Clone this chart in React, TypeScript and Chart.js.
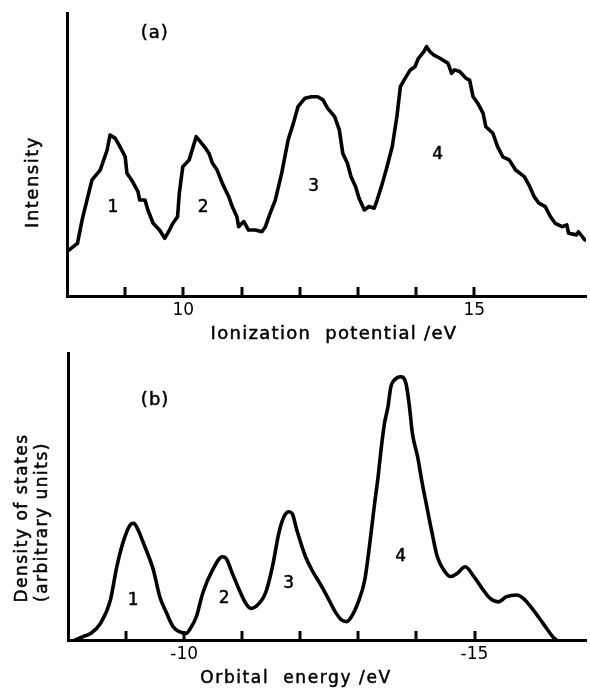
import { useEffect, useRef } from "react";
import { Chart, registerables } from "chart.js";

Chart.register(...registerables);

const FONT = '"DejaVu Sans", "Liberation Sans", sans-serif';

// ---- Panel (a): photoelectron spectrum ----
const ipEnergy = [
  8.00, 8.18, 8.26, 8.40, 8.43, 8.57, 8.69, 8.74, 8.83, 8.91,
  9.00, 9.03, 9.11, 9.22, 9.25, 9.34, 9.39, 9.48, 9.59, 9.68,
  9.76, 9.82, 9.90, 9.93, 9.99, 10.10, 10.22, 10.27, 10.36, 10.44,
  10.50, 10.58, 10.67, 10.78, 10.84, 10.92, 10.95, 11.04, 11.12, 11.24,
  11.35, 11.41, 11.49, 11.58, 11.69, 11.80, 11.89, 11.97, 12.09, 12.20,
  12.31, 12.40, 12.48, 12.60, 12.68, 12.74, 12.82, 12.88, 12.96, 13.02,
  13.11, 13.19, 13.28, 13.33, 13.42, 13.50, 13.59, 13.67, 13.73, 13.81,
  13.90, 13.98, 14.04, 14.13, 14.18, 14.24, 14.30, 14.41, 14.55, 14.61,
  14.66, 14.75, 14.86, 14.92, 14.98, 15.06, 15.15, 15.20, 15.32, 15.40,
  15.49, 15.60, 15.71, 15.86, 15.94, 16.03, 16.11, 16.22, 16.31, 16.39,
  16.51, 16.59, 16.62, 16.76, 16.79, 16.90,
];
const ipIntensity = [
  15.7, 18.6, 26.9, 38.6, 41.0, 44.5, 51.6, 56.9, 55.7, 52.8,
  49.2, 43.4, 41.0, 36.9, 33.9, 33.9, 30.4, 25.7, 23.3, 20.4,
  23.3, 25.7, 28.0, 36.3, 45.7, 48.1, 56.3, 55.1, 52.8, 50.4,
  46.9, 44.5, 39.8, 35.1, 31.6, 28.0, 24.5, 26.3, 23.3, 23.3,
  22.7, 24.5, 29.2, 33.9, 43.4, 55.1, 61.0, 66.9, 69.9, 70.4,
  70.4, 69.3, 66.3, 63.4, 58.7, 50.4, 46.9, 42.2, 38.6, 34.5,
  30.4, 31.6, 31.0, 33.9, 39.8, 45.7, 52.8, 63.4, 74.0, 76.9,
  79.9, 81.0, 84.0, 86.3, 88.1, 86.3, 85.2, 84.0, 82.2, 78.7,
  79.9, 79.3, 76.9, 76.3, 70.4, 68.1, 64.6, 59.8, 57.5, 52.8,
  49.2, 48.1, 44.5, 42.2, 39.2, 35.1, 32.8, 31.6, 28.0, 25.7,
  24.5, 25.1, 22.2, 21.6, 22.7, 19.8,
];
const ipTickLabels = [10, 15];
const ipPeakX = [8.79, 10.34, 12.24, 14.37];
const ipPeakY = [31.4, 31.4, 38.5, 49.8];

// ---- Panel (b): calculated density of states ----
const dosEnergy = [
  -8.13, -8.25, -8.39, -8.56, -8.73, -8.84, -8.96, -9.07, -9.13, -9.18,
  -9.30, -9.47, -9.58, -9.70, -9.81, -9.92, -10.04, -10.09, -10.21, -10.32,
  -10.49, -10.66, -10.72, -10.83, -10.95, -11.06, -11.15, -11.23, -11.40, -11.52,
  -11.63, -11.72, -11.80, -11.86, -11.94, -12.09, -12.20, -12.37, -12.48, -12.60,
  -12.71, -12.80, -12.88, -12.99, -13.11, -13.19, -13.28, -13.34, -13.39, -13.45,
  -13.51, -13.56, -13.62, -13.73, -13.82, -13.88, -13.93, -14.02, -14.10, -14.19,
  -14.27, -14.36, -14.47, -14.59, -14.70, -14.84, -14.99, -15.13, -15.27, -15.41,
  -15.55, -15.73, -15.84, -16.01, -16.18, -16.35, -16.41,
];
const dosDensity = [
  0.0, 1.1, 2.3, 5.8, 13.9, 25.5, 34.8, 40.1, 40.7, 39.5,
  33.7, 24.4, 15.1, 9.3, 4.6, 2.9, 2.3, 3.5, 8.1, 16.3,
  24.4, 29.0, 28.5, 23.2, 17.4, 12.8, 11.0, 11.6, 16.3, 25.5,
  37.2, 43.0, 44.7, 44.1, 38.3, 29.0, 24.4, 18.6, 14.5, 9.9,
  7.0, 6.4, 8.1, 12.8, 20.9, 32.5, 47.6, 56.9, 66.2, 75.5,
  81.3, 88.3, 90.6, 91.7, 89.4, 81.3, 72.0, 63.9, 54.6, 45.3,
  37.2, 29.0, 24.4, 22.1, 23.2, 25.5, 22.1, 18.0, 14.5, 13.3,
  15.1, 15.7, 14.5, 10.5, 5.8, 1.1, 0.0,
];
const dosTickLabels = [-10, -15];
const dosPeakX = [-9.12, -10.69, -11.80, -13.73];
const dosPeakY = [13.9, 14.6, 19.8, 28.9];

const peakNames = ["1", "2", "3", "4"];

type Txt = {
  text: string;
  x: number;
  y: number;
  size: number;
  data?: boolean;
  rot?: boolean;
  spacing?: number;
};

const innerTicks = {
  id: "innerTicks",
  afterDraw(chart: any) {
    const s = chart.scales.x;
    const ctx = chart.ctx;
    const lo = Math.min(s.min, s.max);
    const hi = Math.max(s.min, s.max);
    ctx.save();
    ctx.strokeStyle = "#000";
    ctx.lineWidth = 3;
    ctx.beginPath();
    s.ticks.forEach((t: any) => {
      const v = t.value;
      if (Math.abs(v - Math.round(v)) < 1e-6 && v > lo + 0.05 && v < hi - 0.05) {
        const px = Math.round(s.getPixelForValue(v));
        ctx.moveTo(px, s.top);
        ctx.lineTo(px, s.top - 9);
      }
    });
    ctx.stroke();
    ctx.restore();
  },
};

function textPlugin(items: Txt[]) {
  return {
    id: "texts",
    afterDraw(chart: any) {
      const ctx = chart.ctx;
      items.forEach((it) => {
        let x = it.x;
        let y = it.y;
        if (it.data) {
          x = chart.scales.x.getPixelForValue(it.x);
          y = chart.scales.y.getPixelForValue(it.y);
        }
        ctx.save();
        ctx.font = `${it.size}px ${FONT}`;
        ctx.fillStyle = "#000";
        ctx.strokeStyle = "#000";
        ctx.lineWidth = 0.5;
        ctx.textAlign = "center";
        ctx.textBaseline = "middle";
        (ctx as any).letterSpacing = `${it.spacing ?? 0}px`;
        ctx.translate(x, y);
        if (it.rot) ctx.rotate(-Math.PI / 2);
        ctx.fillText(it.text, 0, 0);
        ctx.strokeText(it.text, 0, 0);
        ctx.restore();
      });
    },
  };
}

function makeConfig(opts: {
  xs: number[];
  ys: number[];
  xmin: number;
  xmax: number;
  reverse: boolean;
  tickLabels: number[];
  padTop: number;
  xHeight: number;
  yWidth: number;
  smooth: boolean;
  texts: Txt[];
}): any {
  return {
    type: "line",
    data: {
      datasets: [
        {
          data: opts.xs.map((x, i) => ({ x, y: opts.ys[i] })),
          borderColor: "#000",
          borderWidth: 3.6,
          pointRadius: 0,
          fill: false,
          tension: opts.smooth ? 0.4 : 0,
          cubicInterpolationMode: opts.smooth ? "monotone" : "default",
          borderJoinStyle: "round",
          borderCapStyle: "round",
        },
      ],
    },
    options: {
      responsive: false,
      maintainAspectRatio: false,
      animation: false,
      devicePixelRatio: 1,
      events: [],
      layout: { padding: { top: opts.padTop, left: 0, right: 0, bottom: 0 } },
      plugins: { legend: { display: false }, tooltip: { enabled: false } },
      scales: {
        x: {
          type: "linear",
          min: opts.xmin,
          max: opts.xmax,
          reverse: opts.reverse,
          grid: { display: false, drawTicks: false },
          border: { display: true, color: "#000", width: 3 },
          ticks: {
            stepSize: 1,
            autoSkip: false,
            maxRotation: 0,
            padding: 4,
            color: "#000",
            font: { family: FONT, size: 17 },
            callback: (v: number) =>
              opts.tickLabels.some((t) => Math.abs(t - v) < 1e-6) ? String(v) : "",
          },
          afterFit: (s: any) => {
            s.height = opts.xHeight;
          },
        },
        y: {
          min: 0,
          max: 100,
          grid: { display: false, drawTicks: false },
          border: { display: true, color: "#000", width: 3 },
          ticks: { display: false },
          afterFit: (s: any) => {
            s.width = opts.yWidth;
          },
        },
      },
    },
    plugins: [innerTicks, textPlugin(opts.texts)],
  };
}

export default function App() {
  const refA = useRef<HTMLCanvasElement | null>(null);
  const refB = useRef<HTMLCanvasElement | null>(null);

  useEffect(() => {
    if (!refA.current || !refB.current) return;
    const textsA: Txt[] = [
      { text: "(a)", x: 9.51, y: 92.9, size: 18, data: true, spacing: 1 },
      ...peakNames.map((n, i) => ({ text: n, x: ipPeakX[i], y: ipPeakY[i], size: 17, data: true })),
      { text: "Ionization  potential /eV", x: 334, y: 334, size: 18, spacing: 1.3 },
      { text: "Intensity", x: 33, y: 182, size: 18, rot: true, spacing: 1.5 },
    ];
    const textsB: Txt[] = [
      { text: "(b)", x: -9.5, y: 83.6, size: 18, data: true, spacing: 1 },
      ...peakNames.map((n, i) => ({ text: n, x: dosPeakX[i], y: dosPeakY[i], size: 17, data: true })),
      { text: "Orbital  energy /eV", x: 296, y: 329, size: 17, spacing: 1.6 },
      { text: "Density of states", x: 23, y: 168, size: 17, rot: true, spacing: 1.5 },
      { text: "(arbitrary units)", x: 43, y: 172, size: 17, rot: true, spacing: 1.5 },
    ];
    const chartA = new Chart(
      refA.current,
      makeConfig({
        xs: ipEnergy,
        ys: ipIntensity,
        xmin: 8.0,
        xmax: 16.92,
        reverse: false,
        tickLabels: ipTickLabels,
        padTop: 13,
        xHeight: 54,
        yWidth: 67,
        smooth: false,
        texts: textsA,
      })
    );
    const chartB = new Chart(
      refB.current,
      makeConfig({
        xs: dosEnergy,
        ys: dosDensity,
        xmin: -16.92,
        xmax: -8.0,
        reverse: true,
        tickLabels: dosTickLabels,
        padTop: 3,
        xHeight: 57,
        yWidth: 68,
        smooth: true,
        texts: textsB,
      })
    );
    return () => {
      chartA.destroy();
      chartB.destroy();
    };
  }, []);

  return (
    <div
      style={{
        position: "absolute",
        left: 0,
        top: 0,
        width: 590,
        height: 697,
        background: "#fff",
        overflow: "hidden",
      }}
    >
      <canvas
        ref={refA}
        width={590}
        height={350}
        style={{ position: "absolute", left: 0, top: 0, width: 590, height: 350 }}
      />
      <canvas
        ref={refB}
        width={590}
        height={347}
        style={{ position: "absolute", left: 0, top: 350, width: 590, height: 347 }}
      />
    </div>
  );
}
